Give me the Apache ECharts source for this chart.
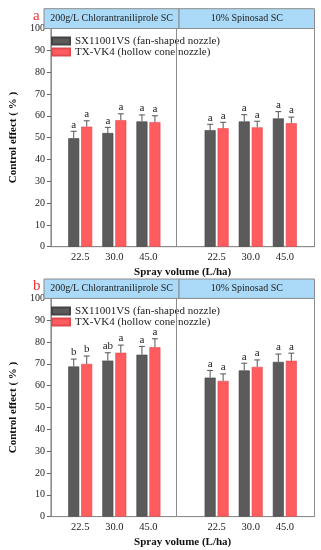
<!DOCTYPE html>
<html>
<head>
<meta charset="utf-8">
<script src="https://cdn.jsdelivr.net/npm/echarts@6/dist/echarts.min.js"></script>
<style>html,body{margin:0;padding:0;background:#fff;}#c{width:321px;height:550px;}</style>
</head>
<body>
<div id="c"></div>
<script>
// ---- data ----
const panelNames = ['200g/L Chlorantraniliprole SC', '10% Spinosad SC'];
const panelRanges = [[0.14, 4], [4, 7.87]];
const xPositions = [1, 2, 3, 5, 6, 7];
const xTickLabels = ['22.5', '30.0', '45.0', '22.5', '30.0', '45.0'];
const seriesNames = ['SX11001VS (fan-shaped nozzle)', 'TX-VK4 (hollow cone nozzle)'];

const aFan = [49.7, 52.1, 57.4, 53.4, 57.4, 58.8];
const aFanErr = [3.2, 2.6, 3.0, 2.7, 3.1, 3.1];
const aFanSig = ['a', 'a', 'a', 'a', 'a', 'a'];
const aHollow = [55.0, 58.0, 57.1, 54.3, 54.7, 56.6];
const aHollowErr = [2.7, 2.9, 2.9, 2.7, 2.8, 2.8];
const aHollowSig = ['a', 'a', 'a', 'a', 'a', 'a'];

const bFan = [68.8, 71.5, 74.2, 63.7, 67.0, 70.9];
const bFanErr = [3.4, 3.6, 3.8, 3.3, 3.3, 3.6];
const bFanSig = ['b', 'ab', 'a', 'a', 'a', 'a'];
const bHollow = [70.0, 75.1, 77.6, 62.2, 68.6, 71.4];
const bHollowErr = [3.6, 3.5, 3.9, 3.2, 3.2, 3.5];
const bHollowSig = ['b', 'a', 'a', 'a', 'a', 'a'];

const yTicks = {min: 0, max: 100, interval: 10};
const xTitle = 'Spray volume (L/ha)';
const yTitle = 'Control effect ( % )';
const panelLetters = ['a', 'b'];

// ---- styles ----
const FONT = 'Liberation Serif';
const DARK = '#5b5b5b', RED = '#ff5c60';
const BAR_W = 11, HALF_OFF = 6.5;

const chart = echarts.init(document.getElementById('c'));

const layouts = [
  {top: 28.5, height: 218.2, headTop: 8.7, headH: 19.8, legendTop: 30.5},
  {top: 298.4, height: 218.2, headTop: 279, headH: 19.4, legendTop: 300.5}
];
const charts = [
  {fan: aFan, fanErr: aFanErr, fanSig: aFanSig, hol: aHollow, holErr: aHollowErr, holSig: aHollowSig},
  {fan: bFan, fanErr: bFanErr, fanSig: bFanSig, hol: bHollow, holErr: bHollowErr, holSig: bHollowSig}
];

const grid = [], xAxis = [], yAxis = [], series = [], legend = [], title = [];

function errSeries(gi, vals, errs, sigs, dx) {
  return {
    type: 'custom', name: 'err' + gi + dx, xAxisIndex: gi * 2, yAxisIndex: gi * 2, z: 5,
    data: xPositions.map((x, i) => [x, vals[i], errs[i]]),
    encode: {x: 0, y: 1},
    renderItem: function (params, api) {
      const x = api.value(0), v = api.value(1), e = api.value(2);
      const sig = sigs[params.dataIndex];
      const p = api.coord([x, v]);
      const q = api.coord([x, v + e]);
      const cx = p[0] + dx;
      return {
        type: 'group',
        children: [
          {type: 'line', shape: {x1: cx, y1: p[1], x2: cx, y2: q[1]}, style: {stroke: '#555', lineWidth: 1}},
          {type: 'line', shape: {x1: cx - 3, y1: q[1], x2: cx + 3, y2: q[1]}, style: {stroke: '#555', lineWidth: 1}},
          {type: 'text', x: cx, y: q[1] - 1, style: {text: sig, fill: '#222', font: '11px "' + FONT + '"', align: 'center', verticalAlign: 'bottom'}}
        ]
      };
    }
  };
}

layouts.forEach((L, gi) => {
  const d = charts[gi];
  grid.push({left: 44, right: 6.5, top: L.top, height: L.height, show: true, borderColor: '#8c8c8c', borderWidth: 1});
  grid.push({left: 44, right: 6.5, top: L.headTop, height: L.headH, show: false});

  xAxis.push({
    type: 'value', gridIndex: gi * 2, min: panelRanges[0][0], max: panelRanges[1][1],
    splitLine: {show: false}, axisLine: {show: true, lineStyle: {color: '#8c8c8c'}}, axisTick: {show: false},
    axisLabel: {customValues: xPositions, formatter: function (v) { const i = xPositions.indexOf(v); return i >= 0 ? xTickLabels[i] : ''; },
      fontFamily: FONT, fontSize: 10.5, color: '#222', margin: 5},
    name: xTitle, nameLocation: 'middle', nameGap: 20,
    nameTextStyle: {fontFamily: FONT, fontWeight: 'bold', fontSize: 11, color: '#111'}
  });
  xAxis.push({type: 'value', gridIndex: gi * 2 + 1, min: panelRanges[0][0], max: panelRanges[1][1], show: false});

  yAxis.push({
    type: 'value', gridIndex: gi * 2, min: yTicks.min, max: yTicks.max, interval: yTicks.interval,
    splitLine: {show: false},
    axisLine: {show: true, lineStyle: {color: '#8c8c8c'}},
    axisTick: {show: true, length: 4, lineStyle: {color: '#666'}},
    axisLabel: {fontFamily: FONT, fontSize: 10, color: '#222', margin: 6},
    name: yTitle, nameLocation: 'middle', nameGap: 28, nameRotate: 90,
    nameTextStyle: {fontFamily: FONT, fontWeight: 'bold', fontSize: 11, color: '#111'}
  });
  yAxis.push({type: 'value', gridIndex: gi * 2 + 1, min: 0, max: 1, show: false});

  series.push({
    type: 'bar', name: seriesNames[0], xAxisIndex: gi * 2, yAxisIndex: gi * 2,
    data: xPositions.map((x, i) => [x, d.fan[i]]), barWidth: BAR_W, barGap: '18%',
    itemStyle: {color: DARK, borderColor: '#444', borderWidth: 0.6},
    markLine: {silent: true, symbol: 'none', label: {show: false}, lineStyle: {color: '#8c8c8c', type: 'solid', width: 1},
      data: [{xAxis: panelRanges[1][0]}]}
  });
  series.push({
    type: 'bar', name: seriesNames[1], xAxisIndex: gi * 2, yAxisIndex: gi * 2,
    data: xPositions.map((x, i) => [x, d.hol[i]]), barWidth: BAR_W,
    itemStyle: {color: RED, borderColor: '#e04a4e', borderWidth: 0.6}
  });
  series.push(errSeries(gi, d.fan, d.fanErr, d.fanSig, -HALF_OFF));
  series.push(errSeries(gi, d.hol, d.holErr, d.holSig, HALF_OFF));

  series.push({
    type: 'custom', name: 'header' + gi, xAxisIndex: gi * 2 + 1, yAxisIndex: gi * 2 + 1,
    data: panelRanges.map((r, i) => [r[0], r[1], i]),
    encode: {x: [0, 1]},
    renderItem: function (params, api) {
      const s = api.value(0), e = api.value(1), i = api.value(2);
      const p0 = api.coord([s, 1]), p1 = api.coord([e, 0]);
      return {
        type: 'group', children: [
          {type: 'rect', shape: {x: p0[0], y: p0[1], width: p1[0] - p0[0], height: p1[1] - p0[1]},
            style: {fill: '#aadaf7', stroke: '#8c8c8c', lineWidth: 1}},
          {type: 'text', x: (p0[0] + p1[0]) / 2, y: (p0[1] + p1[1]) / 2,
            style: {text: panelNames[i], fill: '#222', font: '10px "' + FONT + '"', align: 'center', verticalAlign: 'middle'}}
        ]
      };
    }
  });

  legend.push({
    data: seriesNames, orient: 'vertical', left: 46, top: L.legendTop, itemWidth: 18, itemHeight: 7, itemGap: 0,
    icon: 'rect', selectedMode: false,
    textStyle: {fontFamily: FONT, fontSize: 11, color: '#222', lineHeight: 10.6}
  });

  title.push({text: panelLetters[gi], left: 28, top: L.headTop - 5,
    textStyle: {fontFamily: FONT, fontSize: 15, fontWeight: 'normal', color: '#ee3333'}});
});

chart.setOption({
  animation: false,
  backgroundColor: '#fff',
  title: title, grid: grid, xAxis: xAxis, yAxis: yAxis, legend: legend, series: series
});
</script>
</body>
</html>
